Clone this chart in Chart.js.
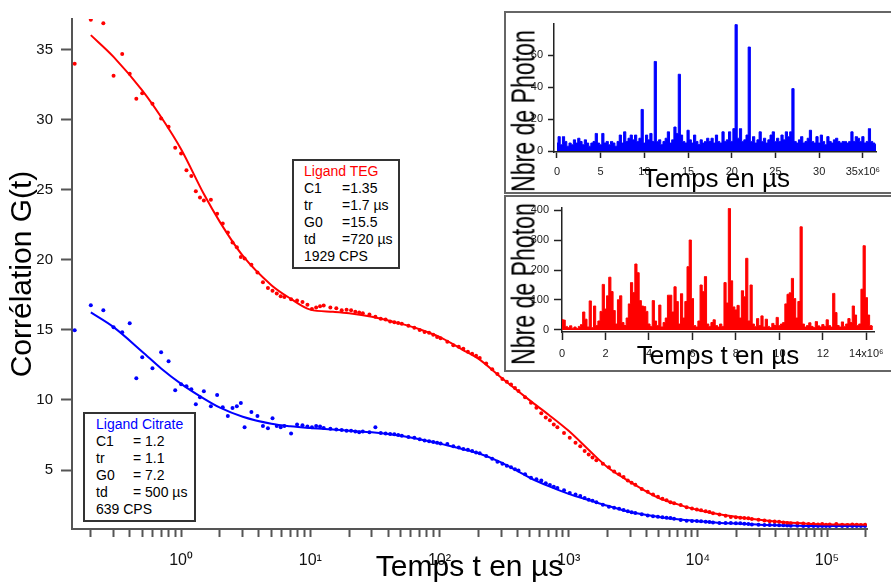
<!DOCTYPE html>
<html>
<head>
<meta charset="utf-8">
<script src="https://cdn.jsdelivr.net/npm/chart.js@4.4.0/dist/chart.umd.min.js"></script>
<style>
  body { margin: 0; background: #fff; font-family: "Liberation Sans", Arial, sans-serif; }
  #wrap { position: relative; width: 891px; height: 583px; overflow: hidden; }
  #main { position: absolute; left: 0; top: 0; }
  .note { position: absolute; box-sizing: border-box; border: 2px solid #333; background: #fff;
          font-size: 14px; line-height: 17px; color: #000; white-space: nowrap; }
  .note .k { display: inline-block; width: 37px; }
  .inset { position: absolute; left: 504px; width: 387px; background: #fff; overflow: hidden; }
  .inset canvas { position: absolute; left: 0; top: 0; }
  .frame { position: absolute; left: 0; top: 0; right: 0; bottom: 0; box-sizing: border-box;
           border: 2px solid #666; border-right: none; }
  .ytitle { position: absolute; font-size: 33px; line-height: 1; white-space: nowrap; color: #000;
            transform: translate(-50%, -50%) rotate(-90deg) scaleX(0.7); }
  .xtitle { position: absolute; font-size: 26px; line-height: 1; white-space: nowrap; color: #000;
            transform: translate(-50%, -50%); }
</style>
</head>
<body>
<div id="wrap">
  <canvas id="main" width="891" height="583"></canvas>

  <div class="note" style="left:292px; top:159px; width:108px; height:110px; padding:2px 0 0 10px;">
    <div style="color:#ff0000">Ligand TEG</div>
    <div><span class="k" style="width:38px">C1</span>=1.35</div>
    <div><span class="k" style="width:38px">tr</span>=1.7 µs</div>
    <div><span class="k" style="width:38px">G0</span>=15.5</div>
    <div><span class="k" style="width:38px">td</span>=720 µs</div>
    <div>1929 CPS</div>
  </div>

  <div class="note" style="left:83px; top:412px; width:113px; height:110px; padding:2px 0 0 11px;">
    <div style="color:#0000ff">Ligand Citrate</div>
    <div><span class="k">C1</span>= 1.2</div>
    <div><span class="k">tr</span>= 1.1</div>
    <div><span class="k">G0</span>= 7.2</div>
    <div><span class="k">td</span>= 500 µs</div>
    <div>639 CPS</div>
  </div>

  <div class="inset" style="top:11px; height:183px;">
    <canvas id="inset1" width="387" height="183"></canvas>
    <div class="ytitle" style="left:19px; top:100px;">Nbre de Photon</div>
    <div class="xtitle" style="left:212px; top:167px;">Temps en µs</div>
    <div class="frame"></div>
  </div>

  <div class="inset" style="top:195px; height:177px;">
    <canvas id="inset2" width="387" height="177"></canvas>
    <div class="ytitle" style="left:19px; top:89px;">Nbre de Photon</div>
    <div class="xtitle" style="left:214px; top:160px;">Temps t en µs</div>
    <div class="frame"></div>
  </div>
</div>

<script>
// correlation curves (lag time in µs)
const lagTimes = [0.15, 0.2, 0.25, 0.3, 0.35, 0.4, 0.45, 0.5,
    0.6, 0.7, 0.8, 0.9, 1.0, 1.1, 1.2, 1.3, 1.4, 1.5,
    1.7, 1.9, 2.1, 2.3, 2.5, 2.7, 2.9, 3.1,
    3.5, 3.9, 4.3, 4.7, 5.1, 5.5, 5.9, 6.3,
    7.1, 7.9, 8.7, 9.5, 10.3, 11.1, 11.9, 12.7,
    14.3, 15.9, 17.5, 19.1, 20.7, 22.3, 23.9, 25.5,
    28.7, 31.9, 35.1, 38.3, 41.5, 44.7, 47.9, 51.1,
    57.5, 63.9, 70.3, 76.7, 83.1, 89.5, 95.9, 102,
    115, 128, 141, 153, 166, 179, 192, 205,
    230, 256, 281, 307, 332, 358, 384, 409,
    460, 511, 563, 614, 665, 716, 767, 818,
    921, 1020, 1130, 1230, 1330, 1430, 1530, 1640,
    1840, 2050, 2250, 2460, 2660, 2870, 3070, 3280,
    3680, 4090, 4500, 4910, 5320, 5730, 6140, 6550,
    7370, 8190, 9010, 9830, 10600, 11500, 12300, 13100,
    14700, 16400, 18000, 19700, 21300, 22900, 24600, 26200,
    29500, 32800, 36000, 39300, 42600, 45900, 49200, 52400,
    59000, 65500, 72100, 78600, 85200, 91800, 98300, 105000,
    118000, 131000, 144000, 157000, 170000, 183000, 197000];

const gTEG = [34.0, 37.15, 36.9, 33.15, 34.7, 33.3, 31.5, 31.9,
    31.15, 30.1, 29.5, 28.0, 27.6, 26.4, 26.0, 24.9, 24.45, 24.25,
    24.3, 23.3, 22.6, 21.95, 21.25, 20.9, 20.2, 20.1,
    19.65, 19.1, 18.4, 18.0, 17.8, 17.6, 17.4, 17.35,
    17.2, 17.1, 17.0, 16.8, 16.5, 16.6, 16.7, 16.75,
    16.6, 16.55, 16.4, 16.45, 16.4, 16.3, 16.25, 16.2,
    16.1, 15.95, 15.8, 15.75, 15.6, 15.55, 15.5, 15.45,
    15.3, 15.15, 15.0, 14.85, 14.8, 14.65, 14.5, 14.4,
    14.15, 13.9, 13.8, 13.65, 13.45, 13.3, 13.15, 13.0,
    12.6, 12.2, 11.85, 11.5, 11.3, 11.1, 10.85, 10.65,
    10.2, 9.8, 9.45, 9.05, 8.75, 8.55, 8.25, 8.05,
    7.65, 7.3, 6.95, 6.7, 6.35, 6.1, 5.9, 5.7,
    5.45, 5.2, 4.9, 4.7, 4.5, 4.25, 4.1, 3.95,
    3.65, 3.45, 3.25, 3.1, 2.95, 2.85, 2.7, 2.62,
    2.5, 2.35, 2.25, 2.18, 2.12, 2.05, 2.0, 1.92,
    1.83, 1.73, 1.65, 1.63, 1.6, 1.58, 1.55, 1.5,
    1.45, 1.4, 1.35, 1.32, 1.3, 1.25, 1.22, 1.2,
    1.2, 1.18, 1.15, 1.15, 1.12, 1.15, 1.1, 1.12,
    1.15, 1.1, 1.08, 1.12, 1.1, 1.08, 1.1];

const gCitrate = [14.98, 16.76, 16.4, 15.19, 14.84, 15.48, 11.56, 13.05,
    12.27, 13.41, 12.77, 10.7, 11.13, 10.99, 10.77, 9.7, 10.2, 10.63,
    9.56, 10.35, 9.49, 8.85, 9.42, 9.56, 9.78, 8.06,
    9.15, 8.85, 8.14, 7.99, 8.7, 8.14, 8.06, 8.14,
    7.6, 8.25, 8.2, 8.1, 8.05, 8.15, 8.1, 8.0,
    7.95, 7.9, 7.85, 7.8, 7.8, 7.75, 7.7, 7.75,
    7.7, 8.06, 7.64, 7.6, 7.57, 7.55, 7.5, 7.45,
    7.35, 7.3, 7.2, 7.1, 7.05, 7.0, 6.95, 6.9,
    6.85, 6.7, 6.6, 6.5, 6.45, 6.35, 6.25, 6.2,
    6.0, 5.8, 5.6, 5.45, 5.3, 5.2, 5.05, 4.97,
    4.7, 4.45, 4.35, 4.25, 4.05, 3.93, 3.8, 3.72,
    3.55, 3.36, 3.25, 3.15, 3.0, 2.88, 2.8, 2.7,
    2.52, 2.38, 2.3, 2.24, 2.15, 2.05, 1.98, 1.94,
    1.85, 1.76, 1.7, 1.66, 1.63, 1.6, 1.57, 1.52,
    1.43, 1.38, 1.37, 1.36, 1.35, 1.31, 1.29, 1.26,
    1.22, 1.22, 1.21, 1.2, 1.2, 1.17, 1.14, 1.12,
    1.09, 1.08, 1.08, 1.07, 1.06, 1.05, 1.04, 1.02,
    1.02, 1.0, 1.0, 1.0, 1.0, 1.0, 1.0, 1.0,
    1.0, 1.0, 1.0, 1.0, 1.0, 1.0, 1.0];

// fitted curves
const fitTimes = [0.2, 0.3, 0.5, 0.7, 1, 1.5, 2, 3, 5, 7, 10, 15, 20, 30, 50, 70, 100, 150, 200, 300,
    500, 700, 1000, 1500, 2000, 3000, 5000, 7000, 10000, 15000, 20000, 30000, 50000, 70000, 100000, 200000];
const fitTEG = [36.05, 34.5, 32.1, 30.2, 27.9, 24.7, 22.7, 20.3, 18.2, 17.25, 16.45, 16.3, 16.2, 15.95, 15.45, 15.05, 14.5, 13.6, 12.95, 11.6,
    9.97, 8.95, 7.8, 6.25, 5.2, 4.15, 3.0, 2.55, 2.15, 1.82, 1.65, 1.45, 1.25, 1.17, 1.12, 1.1];
const fitCitrate = [16.25, 15.2, 13.45, 12.25, 11.15, 10.1, 9.45, 8.8, 8.3, 8.12, 8.0, 7.9, 7.8, 7.7, 7.45, 7.2, 6.9, 6.5, 6.2, 5.55,
    4.45, 3.85, 3.3, 2.8, 2.45, 2.0, 1.65, 1.48, 1.35, 1.22, 1.18, 1.1, 1.04, 1.01, 1.0, 1.0];

const gTicks = [5, 10, 15, 20, 25, 30, 35];
const timeMajorTicks = [1, 10, 100, 1000, 10000, 100000];
const timeMajorLabels = ['10⁰', '10¹', '10²', '10³', '10⁴', '10⁵'];

// photon count traces
const blueBin = 0.25e6;
const blueCounts = [5, 9, 4, 9, 6, 3, 5, 4, 7, 5,
    8, 6, 4, 7, 5, 3, 5, 6, 11, 5,
    4, 11, 5, 6, 4, 6, 5, 3, 6, 10,
    5, 12, 6, 8, 10, 7, 10, 6, 8, 26,
    5, 10, 7, 11, 6, 56, 6, 7, 4, 6,
    8, 12, 5, 7, 15, 11, 48, 10, 6, 5,
    13, 7, 5, 10, 6, 4, 7, 5, 6, 8,
    6, 8, 5, 10, 6, 5, 12, 6, 7, 12,
    6, 14, 79, 8, 14, 6, 7, 10, 65, 6,
    9, 5, 7, 12, 6, 8, 5, 7, 10, 12,
    6, 8, 6, 10, 7, 12, 9, 12, 39, 6,
    5, 7, 9, 5, 6, 8, 13, 6, 5, 9,
    5, 10, 6, 4, 9, 6, 5, 7, 8, 6,
    5, 6, 6, 5, 6, 12, 6, 9, 8, 6,
    9, 5, 6, 14, 6, 5, 4];
const blueTimeTicks = [0, 5e6, 10e6, 15e6, 20e6, 25e6, 30e6, 35e6];
const blueTimeLabels = ['0', '5', '10', '15', '20', '25', '30', '35x10⁶'];
const blueCountTicks = [0, 20, 40, 60];

const redBin = 0.1e6;
const redCounts = [35, 33, 12, 8, 14, 6, 10, 5, 12, 18,
    60, 36, 10, 97, 8, 80, 15, 30, 62, 152,
    70, 114, 176, 128, 65, 20, 101, 114, 25, 15,
    40, 87, 158, 125, 220, 191, 98, 80, 78, 62,
    20, 12, 98, 30, 15, 83, 10, 25, 40, 116,
    116, 60, 144, 95, 20, 121, 40, 95, 211, 300,
    105, 15, 10, 30, 150, 128, 178, 20, 12, 25,
    34, 15, 10, 20, 12, 158, 90, 405, 164, 77,
    67, 82, 40, 131, 111, 239, 30, 150, 20, 12,
    38, 15, 47, 10, 36, 12, 8, 22, 15, 42,
    15, 20, 25, 87, 119, 124, 172, 105, 40, 95,
    344, 20, 10, 15, 24, 12, 8, 28, 14, 10,
    18, 12, 34, 15, 10, 122, 58, 15, 10, 27,
    12, 20, 38, 25, 80, 50, 15, 20, 136, 281,
    108, 50, 15, 12];
const redTimeTicks = [0, 2e6, 4e6, 6e6, 8e6, 10e6, 12e6, 14e6];
const redTimeLabels = ['0', '2', '4', '6', '8', '10', '12', '14x10⁶'];
const redCountTicks = [0, 100, 200, 300, 400];

const FONT = "'Liberation Sans', Arial, sans-serif";
Chart.defaults.font.family = FONT;
Chart.defaults.color = '#222';

function fixTicks(values) {
    return function (scale) {
        scale.ticks = values.map(v => ({ value: v }));
    };
}

// minor ticks of the log axis: 2..9 in every decade
const timeAllTicks = [];
for (let d = 0.1; d <= 100000; d *= 10) {
    for (let m = 1; m <= 9; m++) {
        const v = Number((m * d).toPrecision(3));
        if (v >= 0.2 && v <= 200000) timeAllTicks.push(v);
    }
}

new Chart(document.getElementById('main'), {
    type: 'scatter',
    data: {
        datasets: [
            {
                label: 'fit TEG',
                data: fitTimes.map((t, i) => ({ x: t, y: fitTEG[i] })),
                showLine: true,
                borderColor: '#ff0000',
                borderWidth: 2,
                pointRadius: 0,
                cubicInterpolationMode: 'monotone'
            },
            {
                label: 'fit Citrate',
                data: fitTimes.map((t, i) => ({ x: t, y: fitCitrate[i] })),
                showLine: true,
                borderColor: '#0000ff',
                borderWidth: 2,
                pointRadius: 0,
                cubicInterpolationMode: 'monotone'
            },
            {
                label: 'Ligand TEG',
                data: lagTimes.map((t, i) => ({ x: t, y: gTEG[i] })),
                backgroundColor: '#ff0000',
                borderColor: '#ff0000',
                borderWidth: 0,
                pointRadius: 2
            },
            {
                label: 'Ligand Citrate',
                data: lagTimes.map((t, i) => ({ x: t, y: gCitrate[i] })),
                backgroundColor: '#0000ff',
                borderColor: '#0000ff',
                borderWidth: 0,
                pointRadius: 2
            }
        ]
    },
    options: {
        responsive: false,
        animation: false,
        layout: { padding: { top: 19, right: 24, left: 0, bottom: 0 } },
        plugins: { legend: { display: false }, tooltip: { enabled: false } },
        scales: {
            x: {
                type: 'logarithmic',
                min: 0.143,
                max: 2.04e5,
                afterFit: s => { s.height = 54; },
                afterBuildTicks: fixTicks(timeAllTicks),
                ticks: {
                    autoSkip: false,
                    maxRotation: 0,
                    padding: 14,
                    color: '#111',
                    font: { size: 16 },
                    callback: v => {
                        const k = timeMajorTicks.indexOf(v);
                        return k >= 0 ? timeMajorLabels[k] : '';
                    }
                },
                grid: { drawOnChartArea: false, tickLength: 8, tickColor: '#555', tickWidth: 2 },
                border: { color: '#555', width: 2 },
                title: {
                    display: true,
                    text: 'Temps t en µs',
                    color: '#000',
                    font: { size: 30, lineHeight: 1 },
                    padding: { top: 0, bottom: 0 }
                }
            },
            y: {
                min: 0.79,
                max: 37.2,
                afterFit: s => { s.width = 72; },
                afterBuildTicks: fixTicks(gTicks),
                ticks: { padding: 8, color: '#111', font: { size: 15 } },
                grid: { drawOnChartArea: false, tickLength: 11, tickColor: '#555', tickWidth: 2 },
                border: { color: '#555', width: 2 },
                title: {
                    display: true,
                    text: 'Corrélation G(t)',
                    color: '#000',
                    font: { size: 30, lineHeight: 1 },
                    padding: { top: 8, bottom: 0 }
                }
            }
        }
    }
});

function traceChart(id, counts, bin, color, xr, yr, xTicks, xLabels, yTicks, yAxisWidth, xAxisHeight, yTickLen, xTickLen) {
    return new Chart(document.getElementById(id), {
        type: 'line',
        data: {
            datasets: [{
                data: counts.map((c, i) => ({ x: i * bin, y: c })),
                borderColor: color,
                backgroundColor: color,
                borderWidth: 1,
                pointRadius: 0,
                stepped: 'middle',
                fill: 'origin'
            }]
        },
        options: {
            responsive: false,
            animation: false,
            layout: { padding: { top: 13, right: 15, left: 0, bottom: 0 } },
            plugins: { legend: { display: false }, tooltip: { enabled: false } },
            scales: {
                x: {
                    type: 'linear',
                    min: xr[0],
                    max: xr[1],
                    afterFit: s => { s.height = xAxisHeight; },
                    afterBuildTicks: fixTicks(xTicks),
                    ticks: {
                        autoSkip: false,
                        maxRotation: 0,
                        padding: 7,
                        font: { size: 11 },
                        color: '#222',
                        callback: (v, i) => xLabels[i]
                    },
                    grid: { drawOnChartArea: false, tickLength: xTickLen, tickColor: '#222', tickWidth: 1.5 },
                    border: { color: '#222', width: 1.5 }
                },
                y: {
                    min: yr[0],
                    max: yr[1],
                    afterFit: s => { s.width = yAxisWidth; },
                    afterBuildTicks: fixTicks(yTicks),
                    ticks: { padding: 5, font: { size: 11 }, color: '#222' },
                    grid: { drawOnChartArea: false, tickLength: yTickLen, tickColor: '#222', tickWidth: 1.5 },
                    border: { color: '#222', width: 1.5 }
                }
            }
        }
    });
}

traceChart('inset1', blueCounts, blueBin, '#0000ff', [-0.34e6, 36.5e6], [-0.6, 79.4],
    blueTimeTicks, blueTimeLabels, blueCountTicks, 50, 42, 6, 6);
traceChart('inset2', redCounts, redBin, '#ff0000', [0, 14.38e6], [-6.7, 406.7],
    redTimeTicks, redTimeLabels, redCountTicks, 58, 40, 8, 8);
</script>
</body>
</html>
